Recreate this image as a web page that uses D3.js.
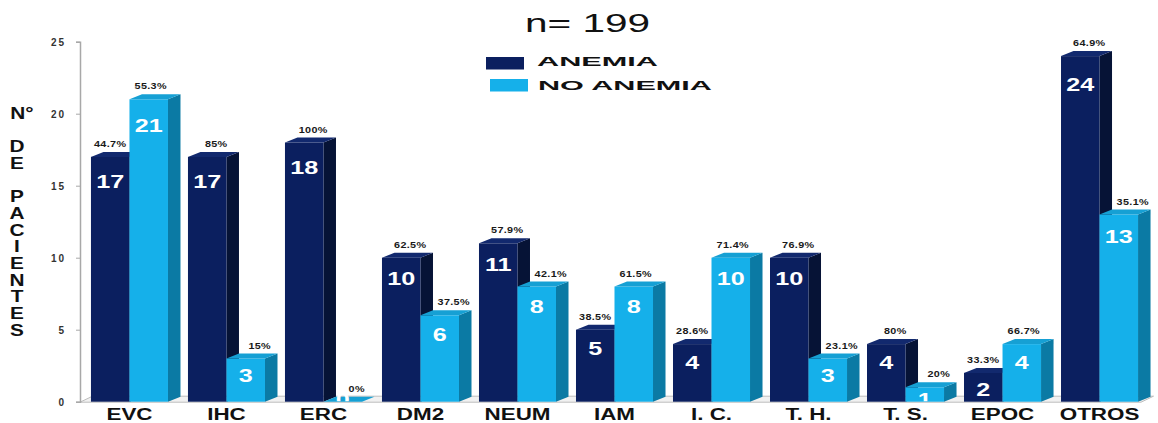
<!DOCTYPE html>
<html>
<head>
<meta charset="utf-8">
<script src="https://cdn.jsdelivr.net/npm/d3@7/dist/d3.min.js"></script>
<style>
  html, body { margin: 0; padding: 0; background: #fff; }
  svg { display: block; font-family: "Liberation Sans", Arial, sans-serif; }
</style>
</head>
<body>
<svg id="chart" width="1158" height="423"></svg>
<script>
// Diagnoses and patient counts by anemia status
const categories = ["EVC", "IHC", "ERC", "DM2", "NEUM", "IAM", "I. C.", "T. H.", "T. S.", "EPOC", "OTROS"];
const anemia     = [17, 17, 18, 10, 11, 5, 4, 10, 4, 2, 24];
const noAnemia   = [21, 3, 0, 6, 8, 8, 10, 3, 1, 4, 13];
const anemiaPct   = ["44.7%", "85%", "100%", "62.5%", "57.9%", "38.5%", "28.6%", "76.9%", "80%", "33.3%", "64.9%"];
const noAnemiaPct = ["55.3%", "15%", "0%", "37.5%", "42.1%", "61.5%", "71.4%", "23.1%", "20%", "66.7%", "35.1%"];
const seriesNames = ["ANEMIA", "NO ANEMIA"];
const yTicks = [0, 5, 10, 15, 20, 25];
const yTitleLines = ["N°", "", "D", "E", "", "P", "A", "C", "I", "E", "N", "T", "E", "S"];
const titleText = "n= 199";

const palette = {
  "ANEMIA":    { front: "#0b1f5f", side: "#061336", top: "#12296e" },
  "NO ANEMIA": { front: "#15b0ea", side: "#0b7aa4", top: "#16a0d4" }
};

const svg = d3.select("#chart");
const depthX = 12.5, depthY = 5;

const x = d3.scaleBand().domain(categories).range([80, 1149])
  .paddingInner(0.206).paddingOuter(0.113);
const xs = d3.scaleBand().domain(seriesNames).range([0, x.bandwidth()]).padding(0);
const y = d3.scaleLinear().domain([0, 25]).range([401.7, 41.7]);

const rows = categories.map((c, i) => {
  const darkTaller = anemia[i] > noAnemia[i];
  return {
    cat: c,
    bars: [
      // percentage labels slide right when the dark bar stands over its neighbour
      { name: seriesNames[0], v: anemia[i], pct: anemiaPct[i], shift: darkTaller ? 9 : 0 },
      { name: seriesNames[1], v: noAnemia[i], pct: noAnemiaPct[i], shift: darkTaller ? 14 : 2 }
    ]
  };
});

// Floor of the 3D plot
const y0 = y(0);
svg.append("polygon")
  .attr("points", [[80, y0 + 0.5], [1141, y0 + 0.5], [1141 + depthX, y0 - depthY - 0.5], [80 + depthX, y0 - depthY - 0.5]].map(p => p.join(",")).join(" "))
  .attr("fill", "#f1f1f1").attr("stroke", "#bdbdbd").attr("stroke-width", 1);

// Value axis
const axis = svg.append("g").attr("transform", "translate(80,0)")
  .call(d3.axisLeft(y).tickValues(yTicks).tickSize(4).tickPadding(10));
axis.select(".domain").attr("stroke", "#a8a8a8").attr("stroke-width", 1.5);
axis.selectAll(".tick line").attr("stroke", "#a8a8a8");
axis.selectAll(".tick text")
  .attr("font-size", 10).attr("font-weight", "bold").attr("fill", "#333")
  .attr("letter-spacing", 2)
  .attr("dy", "0.35em");

// Clip so that counts sink behind the floor edge
svg.append("defs").append("clipPath").attr("id", "above-floor")
  .append("rect").attr("x", 0).attr("y", 0).attr("width", 1158).attr("height", y0 - 0.5);

// Bars
const groups = svg.selectAll("g.cat").data(rows).join("g")
  .attr("class", "cat");

const bars = groups.selectAll("g.bar").data(d => d.bars.map(b => ({ ...b, cat: d.cat }))).join("g")
  .attr("class", "bar");

bars.each(function(d) {
  const g = d3.select(this);
  const bx = x(d.cat) + xs(d.name), w = xs.bandwidth(), top = y(d.v), col = palette[d.name];
  // right side face
  g.append("polygon")
    .attr("points", [[bx + w, top], [bx + w + depthX, top - depthY], [bx + w + depthX, y0 - depthY], [bx + w, y0]].map(p => p.join(",")).join(" "))
    .attr("fill", col.side);
  // front face
  g.append("rect").attr("x", bx).attr("y", top).attr("width", w).attr("height", y0 - top)
    .attr("fill", col.front);
  // top face
  g.append("polygon")
    .attr("points", [[bx, top], [bx + depthX, top - depthY], [bx + w + depthX, top - depthY], [bx + w, top]].map(p => p.join(",")).join(" "))
    .attr("fill", col.top);

  // count inside the bar
  const cx = bx + w / 2;
  const cy = Math.min(top + 16 + 0.5 * d.v, y0 - 2);
  g.append("g").attr("clip-path", "url(#above-floor)")
    .append("text")
    .attr("transform", `translate(${cx},${cy}) scale(1.4,1)`)
    .attr("text-anchor", "middle").attr("dy", "0.36em")
    .attr("font-size", 18).attr("font-weight", "bold").attr("fill", "#fff")
    .text(d.v);

  // percentage above the bar
  g.append("text")
    .attr("transform", `translate(${cx + d.shift},${top - 10}) scale(1.2,1)`)
    .attr("text-anchor", "middle")
    .attr("font-size", 9).attr("font-weight", "bold").attr("fill", "#1a1a1a")
    .attr("letter-spacing", 0.3)
    .text(d.pct);
});

// Category labels
svg.selectAll("text.cat-label").data(categories).join("text")
  .attr("class", "cat-label")
  .attr("transform", d => `translate(${x(d) + x.bandwidth() / 2},420) scale(1.4,1)`)
  .attr("text-anchor", "middle")
  .attr("font-size", 16).attr("font-weight", "bold").attr("fill", "#111")
  .text(d => d);

// Vertical axis title, one letter per line
svg.selectAll("text.ytitle").data(yTitleLines).join("text")
  .attr("class", "ytitle")
  .attr("transform", (d, i) => `translate(${i === 0 ? 22 : 17},${113 + i * 16.7}) scale(1.3,1)`)
  .attr("text-anchor", "middle").attr("dy", "0.36em")
  .attr("font-size", 16).attr("font-weight", "bold").attr("fill", "#111")
  .text(d => d);

// Title
svg.append("text")
  .attr("x", 525).attr("y", 32)
  .attr("font-size", 26).attr("fill", "#111")
  .attr("textLength", 125).attr("lengthAdjust", "spacingAndGlyphs")
  .text(titleText);

// Legend
const legendRows = [
  { name: seriesNames[0], rx: 486, ry: 57, tx: 537, ty: 66, len: 121 },
  { name: seriesNames[1], rx: 490, ry: 79, tx: 538, ty: 90, len: 174 }
];
const legend = svg.append("g");
legend.selectAll("rect").data(legendRows).join("rect")
  .attr("x", d => d.rx).attr("y", d => d.ry).attr("width", 38).attr("height", 12.5)
  .attr("fill", d => palette[d.name].front);
legend.selectAll("text").data(legendRows).join("text")
  .attr("x", d => d.tx).attr("y", d => d.ty)
  .attr("font-size", 12).attr("font-weight", "bold").attr("fill", "#111")
  .attr("textLength", d => d.len).attr("lengthAdjust", "spacingAndGlyphs")
  .text(d => d.name);
</script>
</body>
</html>
